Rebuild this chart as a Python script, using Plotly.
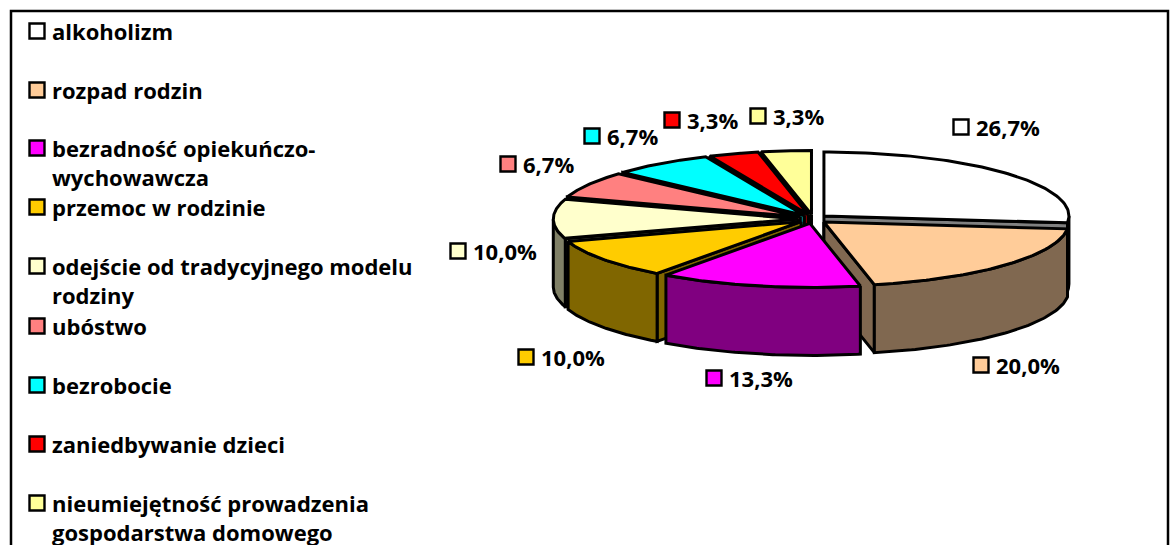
import numpy as np
import plotly.graph_objects as go

# ---- data ----
categories = ["alkoholizm", "rozpad rodzin", "bezradność opiekuńczo-wychowawcza",
              "przemoc w rodzinie", "odejście od tradycyjnego modelu rodziny",
              "ubóstwo", "bezrobocie", "zaniedbywanie dzieci",
              "nieumiejętność prowadzenia gospodarstwa domowego"]
values = [26.7, 20.0, 13.3, 10.0, 10.0, 6.7, 6.7, 3.3, 3.3]
top_colors = ["#FFFFFF", "#FFCC99", "#FF00FF", "#FFCC00", "#FFFFCC",
              "#FF8080", "#00FFFF", "#FF0000", "#FFFF99"]
wall_colors = ["#808080", "#806850", "#800080", "#806600", "#808066",
               "#804040", "#008080", "#800000", "#80804D"]

# ---- layout ----
CX, CY, RX, RY = 813, 219, 245, 64
EX, EY, DEPTH = 14.7, 4.5, 68
draw_order = [0, 8, 7, 6, 5, 4, 3, 1, 2]
legend_rows = [(31, ["alkoholizm"]), (90, ["rozpad rodzin"]),
               (148, ["bezradność opiekuńczo-", "wychowawcza"]),
               (207, ["przemoc w rodzinie"]),
               (266, ["odejście od tradycyjnego modelu", "rodziny"]),
               (326, ["ubóstwo"]), (385, ["bezrobocie"]),
               (444, ["zaniedbywanie dzieci"]),
               (503, ["nieumiejętność prowadzenia", "gospodarstwa domowego"])]
LINE_GAP = 29
label_pos = [(961, 127), (981, 365), (714, 378), (526, 357), (458, 251),
             (508, 164), (592, 136), (672, 120), (758, 116)]
FONT = dict(family="Open Sans", size=22, color="black")

fig = go.Figure()


def poly(xs, ys, fill):
    fig.add_trace(go.Scatter(x=xs, y=ys, mode="lines", fill="toself", fillcolor=fill,
                             line=dict(color="black", width=3), hoverinfo="skip",
                             showlegend=False))


def swatch(x, y, col):
    fig.add_trace(go.Scatter(x=[x], y=[y], mode="markers", hoverinfo="skip", showlegend=False,
                             marker=dict(symbol="square", size=15, color=col,
                                         line=dict(color="black", width=2.4))))


total = sum(values)
edges = np.concatenate([[0], np.cumsum(values)]) / total * 2 * np.pi

for i in draw_order:
    a0, a1 = edges[i], edges[i + 1]
    mid = (a0 + a1) / 2
    ax = CX + EX * np.sin(mid)
    ay = CY - EY * np.cos(mid)
    t = np.linspace(a0, a1, 80)
    rx = ax + RX * np.sin(t)
    ry = ay - RY * np.cos(t)
    # radial walls that face the viewer
    for k, visible in ((0, np.sin(a0) < 0), (-1, np.sin(a1) > 0)):
        if visible:
            poly([ax, rx[k], rx[k], ax, ax], [ay, ry[k], ry[k] + DEPTH, ay + DEPTH, ay], wall_colors[i])
    # outer wall, front half only
    front = np.cos(t) <= 0
    if front.any():
        fx, fy = rx[front], ry[front]
        poly(np.r_[fx, fx[::-1], fx[0]], np.r_[fy, fy[::-1] + DEPTH, fy[0]], wall_colors[i])
    # top face
    poly(np.r_[ax, rx, ax], np.r_[ay, ry, ay], top_colors[i])

# legend swatches and text
for (y, lines), col in zip(legend_rows, top_colors):
    swatch(37, y, col)
    for j, line in enumerate(lines):
        fig.add_annotation(x=50, y=y + j * LINE_GAP, text=f"<b>{line}</b>", showarrow=False,
                           xanchor="left", yanchor="middle", font=FONT)

# data labels
for v, col, (x, y) in zip(values, top_colors, label_pos):
    swatch(x, y, col)
    label = f"{v:.1f}%".replace(".", ",")
    fig.add_annotation(x=x + 13, y=y, text=f"<b>{label}</b>", showarrow=False,
                       xanchor="left", yanchor="middle", font=FONT)

fig.update_layout(
    width=1170, height=545, margin=dict(l=0, r=0, t=0, b=0),
    paper_bgcolor="white", plot_bgcolor="white", showlegend=False,
    xaxis=dict(range=[0, 1170], visible=False, fixedrange=True),
    yaxis=dict(range=[545, 0], visible=False, fixedrange=True),
    shapes=[dict(type="rect", xref="x", yref="y", x0=11, y0=11, x1=1168, y1=600,
                 line=dict(color="black", width=2.5), layer="below")],
)
fig.write_html("out.html", config=dict(displayModeBar=False),
               post_script="document.body.style.margin='0';document.body.style.overflow='hidden';")
